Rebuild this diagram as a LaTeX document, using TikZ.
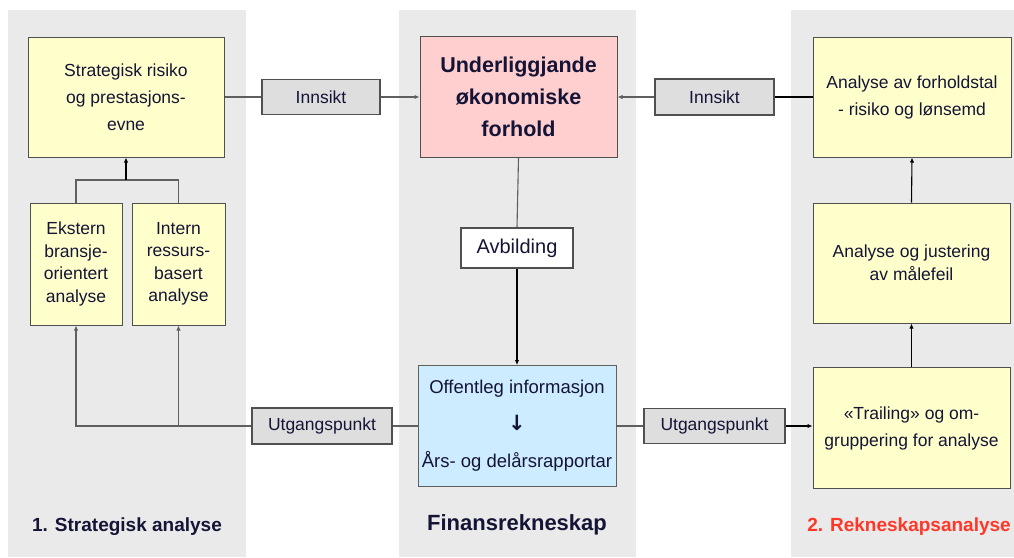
\documentclass[tikz,border=0pt]{standalone}
\usepackage{fontspec}
\setmainfont{Liberation Sans}
\newfontfamily\symfont{DejaVu Sans}
\usepackage{xcolor}
\usepackage{tikz}
\usetikzlibrary{arrows.meta, positioning, calc}
\definecolor{panelgray}{RGB}{234,234,234}
\definecolor{boxyellow}{RGB}{255,255,204}
\definecolor{boxpink}{RGB}{255,206,206}
\definecolor{boxblue}{RGB}{206,236,255}
\definecolor{taggray}{RGB}{222,222,222}
\definecolor{edgegray}{RGB}{80,80,80}
\definecolor{linegray}{RGB}{95,95,95}
\definecolor{textnavy}{RGB}{20,20,55}
\definecolor{labelred}{RGB}{255,55,40}
\tikzset{
  panel/.style={fill=panelgray, draw=none},
  ybox/.style={rectangle, draw=edgegray, fill=boxyellow, align=center,
    inner sep=0pt, line width=1pt, text=textnavy},
  tagbox/.style={rectangle, draw=edgegray, fill=taggray, align=center,
    inner sep=0pt, line width=1.2pt, text=textnavy,
    font=\fontsize{17.5}{20}\selectfont},
  arrow/.style={-{Latex[length=5pt,width=4.5pt]}, line width=1.1pt, color=linegray},
  line/.style={line width=1.1pt, color=linegray},
  title/.style={font=\fontsize{19}{22}\selectfont\bfseries, text=textnavy}
}

\begin{document}
\begin{tikzpicture}[x=1pt, y=-1pt]
  \useasboundingbox (0,0) rectangle (1014,557);

  % Grey panels
  \fill[panel] (8,10) rectangle (246,557);
  \fill[panel] (399,10) rectangle (636,557);
  \fill[panel] (791,10) rectangle (1014,557);

  % Strategisk analyse
  \node[ybox, minimum width=196pt, minimum height=120pt, font=\fontsize{17.5}{27}\selectfont]
    (strat) at (126,97) {Strategisk risiko\\og prestasjons-\\evne};
  \node[ybox, minimum width=92pt, minimum height=122pt, font=\fontsize{17.5}{22.5}\selectfont]
    (ekst) at (76,264) {Ekstern\\bransje-\\orientert\\analyse};
  \node[ybox, minimum width=93pt, minimum height=122pt, font=\fontsize{17.5}{22.5}\selectfont]
    (intn) at (178.5,264) {Intern\\ressurs-\\basert\\analyse};
  \node[title] (strlab) at (127,527) {1. Strategisk analyse};

  % Finansrekneskap
  \node[ybox, fill=boxpink, minimum width=197pt, minimum height=121pt,
    font=\fontsize{21.5}{32}\selectfont\bfseries]
    (uol) at (518.5,97) {Underliggjande\\økonomiske\\forhold};
  \node[ybox, fill=white, minimum width=112pt, minimum height=40pt,
    line width=1.2pt, font=\fontsize{20}{22}\selectfont]
    (avb) at (517,248) {Avbilding};
  \node[ybox, fill=boxblue, draw=linegray, minimum width=198pt, minimum height=121pt,
    font=\fontsize{18.5}{37}\selectfont]
    (off) at (517,426) {Offentleg informasjon\\{\symfont\bfseries\fontsize{21}{24}\selectfont ↓}\\Års- og delårsrapportar};
  \node[title, font=\fontsize{22}{24}\selectfont\bfseries] (fin) at (517,525) {Finansrekneskap};

  % Rekneskapsanalyse
  \node[ybox, minimum width=198pt, minimum height=120pt, font=\fontsize{17.5}{27}\selectfont]
    (forh) at (912,97) {Analyse av forholdstal\\- risiko og lønsemd};
  \node[ybox, minimum width=197pt, minimum height=120pt, font=\fontsize{17.5}{23}\selectfont]
    (just) at (911.5,263) {Analyse og justering\\av målefeil};
  \node[ybox, minimum width=197pt, minimum height=121pt, font=\fontsize{17.5}{27}\selectfont]
    (trail) at (911.5,428) {«Trailing» og om-\\gruppering for analyse};
  \node[title, text=labelred] (reklab) at (909,527) {2. Rekneskapsanalyse};

  % Labels on the connectors
  \node[tagbox, minimum width=118pt, minimum height=35pt] (innL) at (321,97) {Innsikt};
  \node[tagbox, minimum width=119pt, minimum height=36pt] (innR) at (714.5,97) {Innsikt};
  \node[tagbox, minimum width=140pt, minimum height=36pt] (utgL) at (322,426) {Utgangspunkt};
  \node[tagbox, minimum width=141pt, minimum height=35pt] (utgR) at (714.5,426) {Utgangspunkt};

  % Connectors
  \draw[line] (strat.east) -- (innL.west);
  \draw[arrow] (innL.east) -- (uol.west);
  \draw[line, color=black, line width=1.4pt] (forh.west) -- (innR.east);
  \draw[arrow] (innR.west) -- (uol.east);
  \draw[line] (uol.south) -- (avb.north);
  \draw[arrow, color=black] (avb.south) -- (off.north);

  % fork below the strategy box
  \coordinate (fork) at (126,180);
  \draw[line] (ekst.north) |- (fork) -| (intn.north);
  \draw[arrow, color=black] (fork) -- (strat.south);

  % from the reports to both analyses
  \draw[line] (off.west) -- (utgL.east);
  \draw[arrow] (utgL.west) -| (ekst.south);
  \draw[arrow] (intn.south |- utgL.west) -- (intn.south);
  \draw[line] (off.east) -- (utgR.west);
  \draw[arrow, color=black] (utgR.east) -- (utgR.east -| trail.west);
  \draw[arrow, color=black] (trail.north) -- (just.south);
  \draw[arrow, color=black] (just.north) -- (forh.south);
\end{tikzpicture}
\end{document}
